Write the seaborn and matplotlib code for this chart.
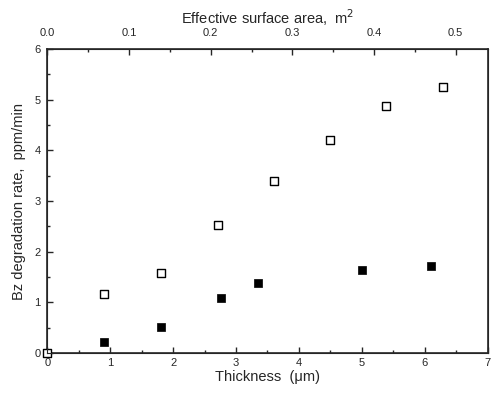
import matplotlib
matplotlib.use("Agg")
import matplotlib.pyplot as plt
import seaborn as sns
import pandas as pd
from matplotlib.ticker import MultipleLocator

# thickness (um) vs degradation rate (ppm/min)
open_x = [0.0, 0.90, 1.80, 2.71, 3.60, 4.49, 5.39, 6.29]
open_y = [0.0, 1.16, 1.57, 2.52, 3.39, 4.20, 4.88, 5.25]
filled_x = [0.90, 1.80, 2.76, 3.35, 5.00, 6.10]
filled_y = [0.22, 0.51, 1.09, 1.38, 1.63, 1.72]

area_per_um = 0.077  # m^2 per um of thickness (top axis)

sns.set_style("ticks")
plt.rcParams['font.family'] = ['Liberation Sans', 'DejaVu Sans']

df_open = pd.DataFrame({'x': open_x, 'y': open_y})
df_filled = pd.DataFrame({'x': filled_x, 'y': filled_y})

fig = plt.figure(figsize=(4.93, 3.93), dpi=100)
ax = fig.add_axes([0.096, 0.102, 0.893, 0.773])

sns.scatterplot(data=df_open, x='x', y='y', ax=ax, marker='s', s=30,
                facecolor='white', edgecolor='black', linewidth=1.0, zorder=3, clip_on=False)
sns.scatterplot(data=df_filled, x='x', y='y', ax=ax, marker='s', s=38,
                color='black', edgecolor='black', linewidth=0.5, zorder=3)

ax.set_xlim(0, 7)
ax.set_ylim(0, 6)
ax.xaxis.set_major_locator(MultipleLocator(1))
ax.xaxis.set_minor_locator(MultipleLocator(0.5))
ax.yaxis.set_major_locator(MultipleLocator(1))
ax.yaxis.set_minor_locator(MultipleLocator(0.5))
ax.tick_params(which='both', direction='in', labelsize=8, width=1)
ax.tick_params(axis='x', pad=4)
ax.tick_params(axis='y', pad=5, right=False)
ax.tick_params(which='major', length=4)
ax.tick_params(which='minor', length=2)
for sp in ax.spines.values():
    sp.set_linewidth(1.2)

ax.set_xlabel('Thickness  (\u03bcm)', fontsize=10.5, labelpad=1)
ax.set_ylabel('Bz degradation rate,  ppm/min', fontsize=10.5, labelpad=6)

top = ax.twiny()
top.set_xlim(0, 7 * area_per_um)
top.xaxis.set_major_locator(MultipleLocator(0.1))
top.xaxis.set_minor_locator(MultipleLocator(0.05))
top.xaxis.set_major_formatter(matplotlib.ticker.FormatStrFormatter('%.1f'))
top.tick_params(which='both', direction='in', labelsize=8, width=1, pad=8)
top.tick_params(which='major', length=4)
top.tick_params(which='minor', length=2)
top.set_xlabel('Effective surface area,  m$^2$', fontsize=10.5, labelpad=3)

fig.savefig('out.png', dpi=100)
plt.close(fig)
